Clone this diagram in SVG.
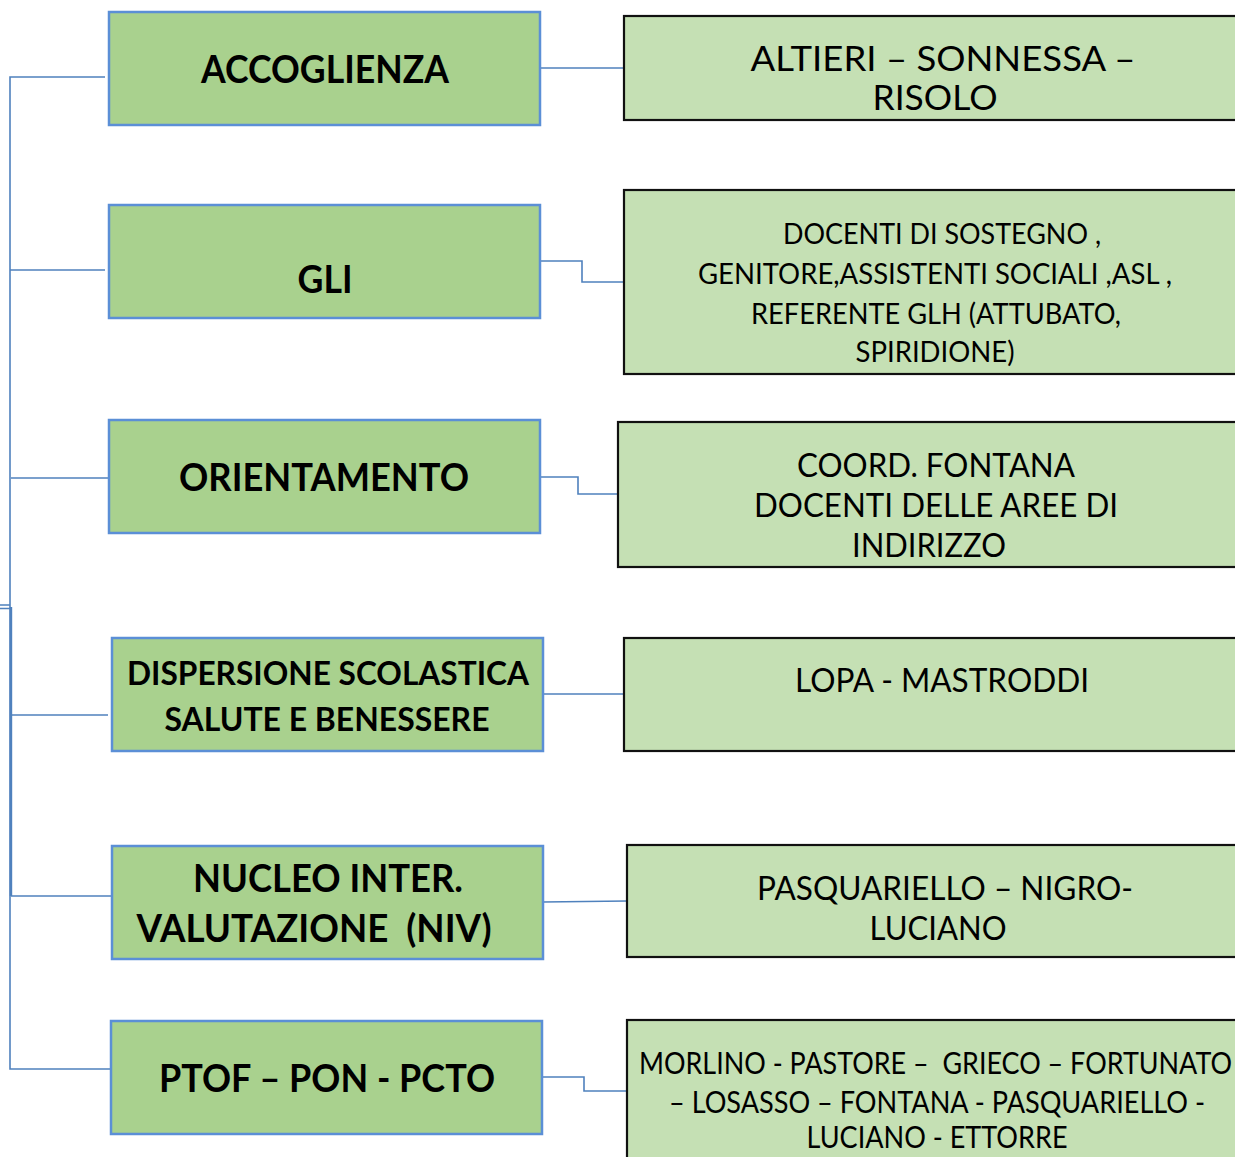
<svg xmlns="http://www.w3.org/2000/svg" width="1235" height="1157" viewBox="0 0 1235 1157">
<style>
.lb{fill:#A9D18E;stroke:#5B8FD6;stroke-width:2.5}
.rb{fill:#C5E0B4;stroke:#111;stroke-width:2.2}
.c{fill:none;stroke:#4F81BD;stroke-width:1.6}
.lt{font-family:Lato,"Open Sans","Liberation Sans",sans-serif;font-weight:bold;fill:#000;text-anchor:middle}
.rt{font-family:Lato,"Open Sans","Liberation Sans",sans-serif;fill:#000;text-anchor:middle}
</style>
<rect width="1235" height="1157" fill="#fff"/>
<g id="connectors">
<path class="c" d="M105,77 H10 V1069 H111"/>
<path class="c" d="M10,270 H105"/>
<path class="c" d="M11,478 H108"/>
<path class="c" d="M11,715 H108"/>
<path class="c" d="M11,896 H112"/>
<path class="c" d="M0,605 H10 M0,608.5 H10"/>
<path class="c" d="M11,607 V896" style="stroke-width:2.4"/>
<path class="c" d="M540,68 H624"/>
<path class="c" d="M540,261 H582 V282 H624"/>
<path class="c" d="M540,477 H578 V494 H618"/>
<path class="c" d="M543,694 H624"/>
<path class="c" d="M543,902 L627,901"/>
<path class="c" d="M542,1077 H584 V1091 H627"/>
</g>
<g id="n1"><rect class="lb" x="109" y="12" width="431" height="113"/>
<text class="lt" x="325" y="83" font-size="38" textLength="248" lengthAdjust="spacingAndGlyphs">ACCOGLIENZA</text></g>
<g id="n2"><rect class="lb" x="109" y="205" width="431" height="113"/>
<text class="lt" x="325" y="293" font-size="38" textLength="55" lengthAdjust="spacingAndGlyphs">GLI</text></g>
<g id="n3"><rect class="lb" x="109" y="420" width="431" height="113"/>
<text class="lt" x="324" y="491" font-size="38" textLength="290" lengthAdjust="spacingAndGlyphs">ORIENTAMENTO</text></g>
<g id="n4"><rect class="lb" x="112" y="638" width="431" height="113"/>
<text class="lt" x="328" y="685" font-size="33" textLength="402" lengthAdjust="spacingAndGlyphs">DISPERSIONE SCOLASTICA</text>
<text class="lt" x="327" y="731" font-size="33" textLength="325" lengthAdjust="spacingAndGlyphs">SALUTE E BENESSERE</text></g>
<g id="n5"><rect class="lb" x="112" y="846" width="431" height="113"/>
<text class="lt" x="328" y="892" font-size="38" textLength="270" lengthAdjust="spacingAndGlyphs">NUCLEO INTER.</text>
<text class="lt" x="314" y="942" font-size="38" textLength="355" lengthAdjust="spacingAndGlyphs" xml:space="preserve">VALUTAZIONE  (NIV)</text></g>
<g id="n6"><rect class="lb" x="111" y="1021" width="431" height="113"/>
<text class="lt" x="327" y="1092" font-size="38" textLength="336" lengthAdjust="spacingAndGlyphs">PTOF – PON - PCTO</text></g>
<g id="r1"><rect class="rb" x="624" y="16" width="620" height="104"/>
<text class="rt" x="943" y="71" font-size="35" textLength="385" lengthAdjust="spacingAndGlyphs">ALTIERI – SONNESSA –</text>
<text class="rt" x="935" y="110" font-size="35" textLength="125" lengthAdjust="spacingAndGlyphs">RISOLO</text></g>
<g id="r2"><rect class="rb" x="624" y="190" width="620" height="184"/>
<text class="rt" x="942" y="244" font-size="28" textLength="318" lengthAdjust="spacingAndGlyphs">DOCENTI DI SOSTEGNO ,</text>
<text class="rt" x="935" y="284" font-size="28" textLength="474" lengthAdjust="spacingAndGlyphs">GENITORE,ASSISTENTI SOCIALI ,ASL ,</text>
<text class="rt" x="936" y="324" font-size="28" textLength="370" lengthAdjust="spacingAndGlyphs">REFERENTE GLH (ATTUBATO,</text>
<text class="rt" x="935" y="362" font-size="28" textLength="159" lengthAdjust="spacingAndGlyphs">SPIRIDIONE)</text></g>
<g id="r3"><rect class="rb" x="618" y="422" width="626" height="145"/>
<text class="rt" x="936" y="477" font-size="33" textLength="278" lengthAdjust="spacingAndGlyphs">COORD. FONTANA</text>
<text class="rt" x="936" y="517" font-size="33" textLength="364" lengthAdjust="spacingAndGlyphs">DOCENTI DELLE AREE DI</text>
<text class="rt" x="929" y="557" font-size="33" textLength="154" lengthAdjust="spacingAndGlyphs">INDIRIZZO</text></g>
<g id="r4"><rect class="rb" x="624" y="638" width="620" height="113"/>
<text class="rt" x="942" y="692" font-size="33" textLength="294" lengthAdjust="spacingAndGlyphs">LOPA - MASTRODDI</text></g>
<g id="r5"><rect class="rb" x="627" y="845" width="617" height="112"/>
<text class="rt" x="945" y="900" font-size="33" textLength="376" lengthAdjust="spacingAndGlyphs">PASQUARIELLO – NIGRO-</text>
<text class="rt" x="938" y="940" font-size="33" textLength="137" lengthAdjust="spacingAndGlyphs">LUCIANO</text></g>
<g id="r6"><rect class="rb" x="627" y="1020" width="617" height="150"/>
<text class="rt" x="935.5" y="1074" font-size="30" textLength="593" lengthAdjust="spacingAndGlyphs" xml:space="preserve">MORLINO - PASTORE –  GRIECO – FORTUNATO</text>
<text class="rt" x="937" y="1113" font-size="30" textLength="536" lengthAdjust="spacingAndGlyphs">– LOSASSO – FONTANA - PASQUARIELLO -</text>
<text class="rt" x="937" y="1148" font-size="30" textLength="261" lengthAdjust="spacingAndGlyphs">LUCIANO - ETTORRE</text></g>
</svg>
